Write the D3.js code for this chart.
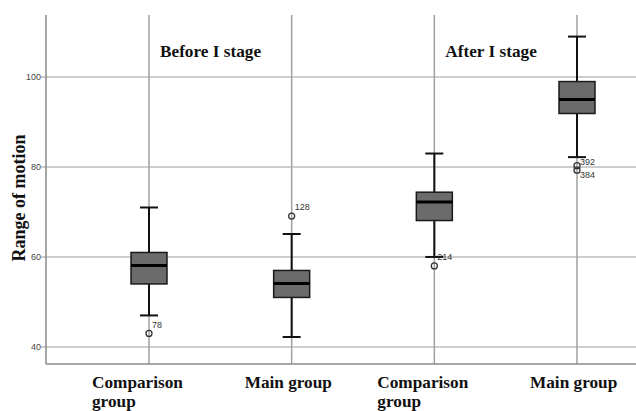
<!DOCTYPE html>
<html>
<head>
<meta charset="utf-8">
<script src="https://cdn.jsdelivr.net/npm/d3@7"></script>
<style>
  html, body { margin: 0; padding: 0; background: #fff; }
  svg { display: block; }
</style>
</head>
<body>
<svg id="chart" width="636" height="411"></svg>
<script>
// ---- data ----
const categories = ["Comparison group", "Main group", "Comparison group", "Main group"];
const stageTitles = ["Before I stage", "After I stage"];
const stageStartIndex = [0, 2];
const whiskerLow = [47, 42.2, 60, 82.2];
const q1 = [54, 51, 68.1, 91.9];
const median = [58.1, 54.1, 72.2, 95];
const q3 = [61, 57, 74.4, 99];
const whiskerHigh = [71, 65.1, 83, 109];
const outlierGroup = [0, 1, 2, 3, 3];
const outlierValue = [43, 69.1, 58, 80.3, 79.3];
const outlierId = ["78", "128", "214", "392", "384"];
const yTicks = [40, 60, 80, 100];
const yTitle = "Range of motion";

// ---- layout ----
const svg = d3.select("#chart");
const axisLeft = 46, axisBottom = 364, plotTop = 15, plotRight = 636;
const serif = "'Liberation Serif', 'Times New Roman', serif";

const x = d3.scalePoint().domain(d3.range(categories.length)).range([149, 577]);
const y = d3.scaleLinear().domain([36.2, 113.8]).range([axisBottom, plotTop]);

// measure font sizes so text widths match
function fitSize(str, target) {
  const probe = svg.append("text").attr("font-family", serif).attr("font-weight", "bold")
    .attr("font-size", 20).text(str);
  const s = 20 * target / probe.node().getComputedTextLength();
  probe.remove();
  return s;
}
const fs = fitSize("Comparison", 91);
const fsY = fitSize(yTitle, 127);

// horizontal gridlines
svg.append("g").selectAll("line").data(yTicks).join("line")
  .attr("x1", axisLeft - 5).attr("x2", plotRight)
  .attr("y1", d => y(d)).attr("y2", d => y(d))
  .attr("stroke", "#bdbdbd").attr("stroke-width", 1.5);

// vertical category lines
svg.append("g").selectAll("line").data(d3.range(categories.length)).join("line")
  .attr("x1", d => x(d)).attr("x2", d => x(d))
  .attr("y1", plotTop).attr("y2", axisBottom)
  .attr("stroke", "#a0a0a0").attr("stroke-width", 1.5);

// axes lines
svg.append("line").attr("x1", axisLeft).attr("x2", axisLeft)
  .attr("y1", plotTop).attr("y2", axisBottom)
  .attr("stroke", "#888").attr("stroke-width", 1.5);
svg.append("line").attr("x1", axisLeft).attr("x2", plotRight)
  .attr("y1", axisBottom).attr("y2", axisBottom)
  .attr("stroke", "#888").attr("stroke-width", 1.5);

// y tick labels
svg.append("g").selectAll("text").data(yTicks).join("text")
  .attr("x", axisLeft - 5).attr("y", d => y(d))
  .attr("dy", "0.35em").attr("text-anchor", "end")
  .attr("font-family", "Arial, 'Liberation Sans', sans-serif").attr("font-size", 9)
  .attr("fill", "#444").text(d => d);

// y title
svg.append("text")
  .attr("transform", `translate(${25},${198}) rotate(-90)`)
  .attr("text-anchor", "middle")
  .attr("font-family", serif).attr("font-weight", "bold").attr("font-size", fsY)
  .attr("fill", "#111").text(yTitle);

// stage titles
svg.append("g").selectAll("text").data(stageTitles).join("text")
  .attr("x", (d, i) => x(stageStartIndex[i]) + 11).attr("y", 57)
  .attr("font-family", serif).attr("font-weight", "bold").attr("font-size", fs)
  .attr("fill", "#111").text(d => d);

// x labels
const xl = svg.append("g");
categories.forEach((c, i) => {
  const words = c.split(" ");
  const lines = c.startsWith("Comparison") ? [words[0], words.slice(1).join(" ")] : [c];
  const t = xl.append("text")
    .attr("font-family", serif).attr("font-weight", "bold").attr("font-size", fs)
    .attr("fill", "#111");
  lines.forEach((ln, k) => {
    t.append("tspan").attr("x", x(i) - (lines.length > 1 ? 57 : 47))
      .attr("y", 388 + k * 19).text(ln);
  });
});

// boxes
const boxW = 36, capW = 18;
const g = svg.append("g");
const idx = d3.range(categories.length);
g.selectAll(".whisk").data(idx).join("line").attr("class", "whisk")
  .attr("x1", i => x(i)).attr("x2", i => x(i))
  .attr("y1", i => y(whiskerLow[i])).attr("y2", i => y(whiskerHigh[i]))
  .attr("stroke", "#111").attr("stroke-width", 2);
g.selectAll(".capH").data(idx).join("line").attr("class", "capH")
  .attr("x1", i => x(i) - capW / 2).attr("x2", i => x(i) + capW / 2)
  .attr("y1", i => y(whiskerHigh[i])).attr("y2", i => y(whiskerHigh[i]))
  .attr("stroke", "#111").attr("stroke-width", 2);
g.selectAll(".capL").data(idx).join("line").attr("class", "capL")
  .attr("x1", i => x(i) - capW / 2).attr("x2", i => x(i) + capW / 2)
  .attr("y1", i => y(whiskerLow[i])).attr("y2", i => y(whiskerLow[i]))
  .attr("stroke", "#111").attr("stroke-width", 2);
g.selectAll(".box").data(idx).join("rect").attr("class", "box")
  .attr("x", i => x(i) - boxW / 2).attr("width", boxW)
  .attr("y", i => y(q3[i])).attr("height", i => y(q1[i]) - y(q3[i]))
  .attr("fill", "#6b6b6b").attr("stroke", "#1a1a1a").attr("stroke-width", 1.5);
g.selectAll(".med").data(idx).join("line").attr("class", "med")
  .attr("x1", i => x(i) - boxW / 2).attr("x2", i => x(i) + boxW / 2)
  .attr("y1", i => y(median[i])).attr("y2", i => y(median[i]))
  .attr("stroke", "#000").attr("stroke-width", 3);

// outliers
const oidx = d3.range(outlierValue.length);
g.selectAll(".out").data(oidx).join("circle").attr("class", "out")
  .attr("cx", i => x(outlierGroup[i])).attr("cy", i => y(outlierValue[i]))
  .attr("r", 3).attr("fill", "none").attr("stroke", "#333").attr("stroke-width", 1.3);
g.selectAll(".outl").data(oidx).join("text").attr("class", "outl")
  .attr("x", i => x(outlierGroup[i]) + 3)
  .attr("y", i => {
    const same = oidx.filter(j => outlierGroup[j] === outlierGroup[i]);
    if (same.length > 1) {
      const rank = same.indexOf(i);
      return y(outlierValue[i]) + (rank === 0 ? -4 : 5);
    }
    return y(outlierValue[i]) - 9;
  })
  .attr("dy", "0.35em")
  .attr("font-family", "Arial, 'Liberation Sans', sans-serif").attr("font-size", 9)
  .attr("fill", "#333").text(i => outlierId[i]);
</script>
</body>
</html>
